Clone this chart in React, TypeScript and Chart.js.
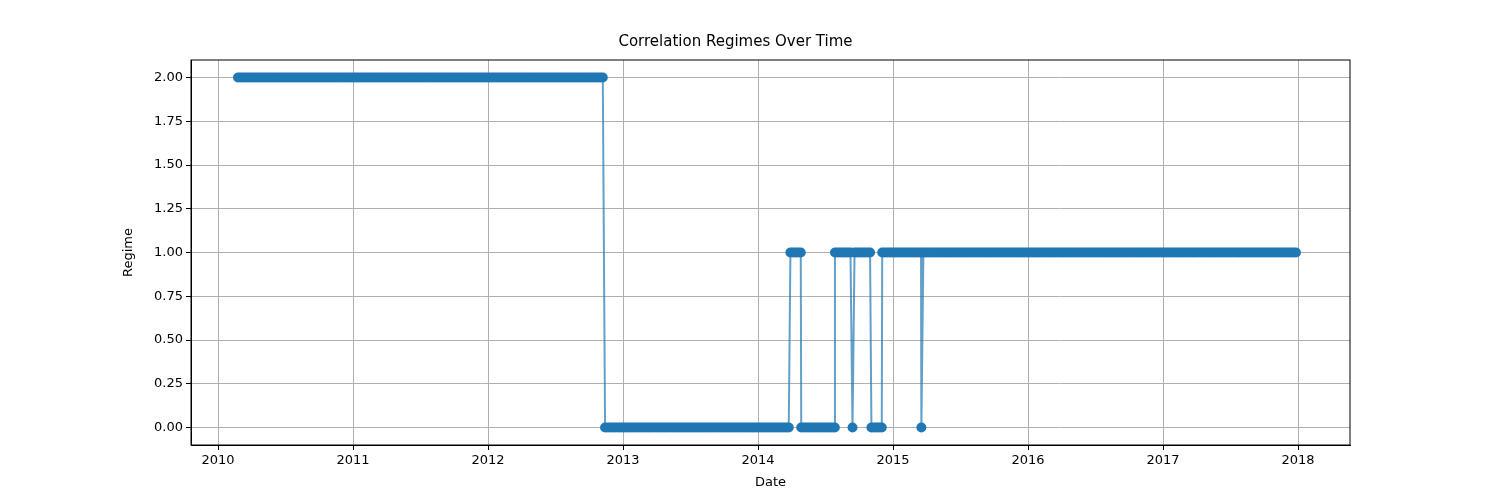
import { useEffect, useRef } from 'react'
import { Chart, registerables } from 'chart.js'

Chart.register(...registerables)

// regime runs: [start (decimal year), end (decimal year), regime]
const runStarts = [2010.148, 2012.867, 2014.24, 2014.32, 2014.57, 2014.7, 2014.715, 2014.84, 2014.92, 2015.21, 2015.225]
const runEnds = [2012.867, 2014.24, 2014.32, 2014.57, 2014.7, 2014.715, 2014.84, 2014.92, 2015.21, 2015.225, 2018.0]
const runRegimes = [2, 0, 1, 0, 1, 0, 1, 0, 1, 0, 1]

const xTicks = [2010, 2011, 2012, 2013, 2014, 2015, 2016, 2017, 2018]
const yTicks = [0, 0.25, 0.5, 0.75, 1, 1.25, 1.5, 1.75, 2]

const WEEK = 7 / 365.25

function buildPoints() {
  const pts: { x: number; y: number }[] = []
  runStarts.forEach((s, i) => {
    const e = runEnds[i]
    let t = s
    pts.push({ x: t, y: runRegimes[i] })
    while (t + WEEK < e) {
      t += WEEK
      pts.push({ x: t, y: runRegimes[i] })
    }
  })
  return pts
}

const frame = {
  id: 'frame',
  afterDraw(chart: Chart) {
    const { ctx, chartArea: a } = chart
    ctx.save()
    ctx.strokeStyle = '#000'
    ctx.lineWidth = 1
    ctx.strokeRect(a.left, a.top, a.right - a.left, a.bottom - a.top)
    ctx.restore()
  },
}

export default function App() {
  const canvasRef = useRef<HTMLCanvasElement>(null)
  const chartRef = useRef<Chart | null>(null)

  useEffect(() => {
    const canvas = canvasRef.current
    if (!canvas) return
    const ctx = canvas.getContext('2d')
    if (!ctx) return
    if (chartRef.current) chartRef.current.destroy()

    const font = { family: 'DejaVu Sans', size: 13 }

    chartRef.current = new Chart(ctx, {
      type: 'line',
      data: {
        datasets: [
          {
            data: buildPoints(),
            borderColor: 'rgba(31,119,180,0.7)',
            borderWidth: 2,
            pointRadius: 5,
            pointBackgroundColor: '#1f77b4',
            pointBorderColor: '#1f77b4',
            pointBorderWidth: 0,
          },
        ],
      },
      options: {
        responsive: false,
        animation: false,
        layout: { padding: { left: 121, right: 150, top: 33, bottom: 10 } },
        scales: {
          x: {
            type: 'linear',
            min: 2009.8,
            max: 2018.385,
            afterBuildTicks: (s) => {
              s.ticks = xTicks.map((v) => ({ value: v }))
            },
            afterFit: (s) => {
              s.height = 45
            },
            title: { display: true, text: 'Date', color: '#000', font, padding: 0 },
            grid: { color: '#b0b0b0', tickColor: '#000', tickLength: 5 },
            border: { color: '#000' },
            ticks: { color: '#000', font, maxRotation: 0, callback: (v) => String(v) },
          },
          y: {
            min: -0.1,
            max: 2.1,
            afterBuildTicks: (s) => {
              s.ticks = yTicks.map((v) => ({ value: v }))
            },
            afterFit: (s) => {
              s.width = 70
            },
            title: { display: true, text: 'Regime', color: '#000', font, padding: 0 },
            grid: { color: '#b0b0b0', tickColor: '#000', tickLength: 5 },
            border: { color: '#000' },
            ticks: { color: '#000', font, callback: (v) => Number(v).toFixed(2) },
          },
        },
        plugins: {
          legend: { display: false },
          tooltip: { enabled: false },
          title: {
            display: true,
            text: 'Correlation Regimes Over Time',
            color: '#000',
            font: { family: 'DejaVu Sans', size: 15, weight: 'normal' },
            padding: { top: 0, bottom: 9 },
          },
        },
      },
      plugins: [frame],
    })

    return () => {
      if (chartRef.current) {
        chartRef.current.destroy()
        chartRef.current = null
      }
    }
  }, [])

  return (
    <div style={{ position: 'absolute', left: 0, top: 0, width: 1500, height: 500, background: '#fff' }}>
      <canvas ref={canvasRef} width={1500} height={500} />
    </div>
  )
}
